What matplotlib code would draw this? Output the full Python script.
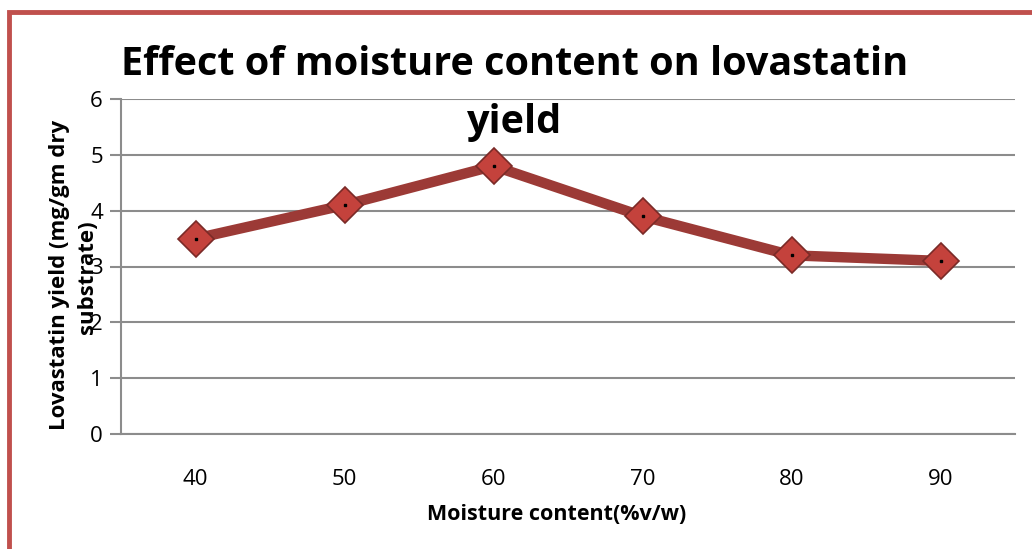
import matplotlib
matplotlib.use("Agg")
import matplotlib.pyplot as plt
from matplotlib.patches import Rectangle

moisture = ["40", "50", "60", "70", "80", "90"]
yield_vals = [3.5, 4.1, 4.8, 3.9, 3.2, 3.1]
yticks = [0, 1, 2, 3, 4, 5, 6]
ytick_labels = ["0", "1", "2", "3", "4", "5", "6"]

W, H = 1032, 549
fig = plt.figure(figsize=(W / 100, H / 100), dpi=100)
FONT = ["Open Sans", "DejaVu Sans"]

ax = fig.add_axes([121 / W, 1 - 434 / H, (1015 - 121) / W, (434 - 99) / H])
x = list(range(len(moisture)))
ax.plot(x, yield_vals, color="#9C3A36", lw=7.5, solid_capstyle="butt", zorder=3)
ax.plot(x, yield_vals, ls="none", marker="D", markersize=18, markerfacecolor="#C4423C",
        markeredgecolor="#7A2A27", markeredgewidth=1.2, zorder=4)
ax.plot(x, yield_vals, ls="none", marker="s", markersize=1.5, color="black", zorder=5)
ax.set_xlim(-0.5, len(moisture) - 0.5)
ax.set_ylim(0, 6)
ax.set_xticks(x)
ax.set_xticklabels(moisture, family=FONT, fontsize=16)
ax.set_yticks(yticks)
ax.set_yticklabels(ytick_labels, family=FONT, fontsize=16)
ax.tick_params(axis="x", length=0, pad=25)
ax.tick_params(axis="y", length=8, width=1.5, color="#8C8C8C", pad=5)
ax.grid(axis="y", color="#8C8C8C", lw=1.5)
ax.set_axisbelow(True)
for s in ["top", "right"]:
    ax.spines[s].set_visible(False)
ax.spines["left"].set_color("#8C8C8C")
ax.spines["left"].set_linewidth(1.5)
ax.spines["bottom"].set_color("#8C8C8C")
ax.spines["bottom"].set_linewidth(1.5)

ax.set_xlabel("Moisture content(%v/w)", family=FONT, fontsize=15.5, fontweight="bold")
ax.xaxis.set_label_coords((557 - 121) / 894, -(515 - 434) / 335)
ax.xaxis.label.set_va("center")

fig.text(60 / W, 1 - 275 / H, "Lovastatin yield (mg/gm dry", rotation=90, family=FONT,
         fontsize=16, fontweight="bold", ha="center", va="center")
fig.text(88 / W, 1 - 277 / H, "substrate)", rotation=90, family=FONT,
         fontsize=16, fontweight="bold", ha="center", va="center")

fig.text(515 / W, 1 - 64 / H, "Effect of moisture content on lovastatin", family=FONT,
         fontsize=28.5, fontweight="bold", ha="center", va="center")
fig.text(515 / W, 1 - 122 / H, "yield", family=FONT,
         fontsize=28.5, fontweight="bold", ha="center", va="center")

fig.patches.append(Rectangle((9 / W, -0.1), 1.2, 1 - 12 / H + 0.1, transform=fig.transFigure,
                             fill=False, edgecolor="#C0504D", lw=3.5, zorder=10))

fig.savefig("out.png", dpi=100, facecolor="white")
